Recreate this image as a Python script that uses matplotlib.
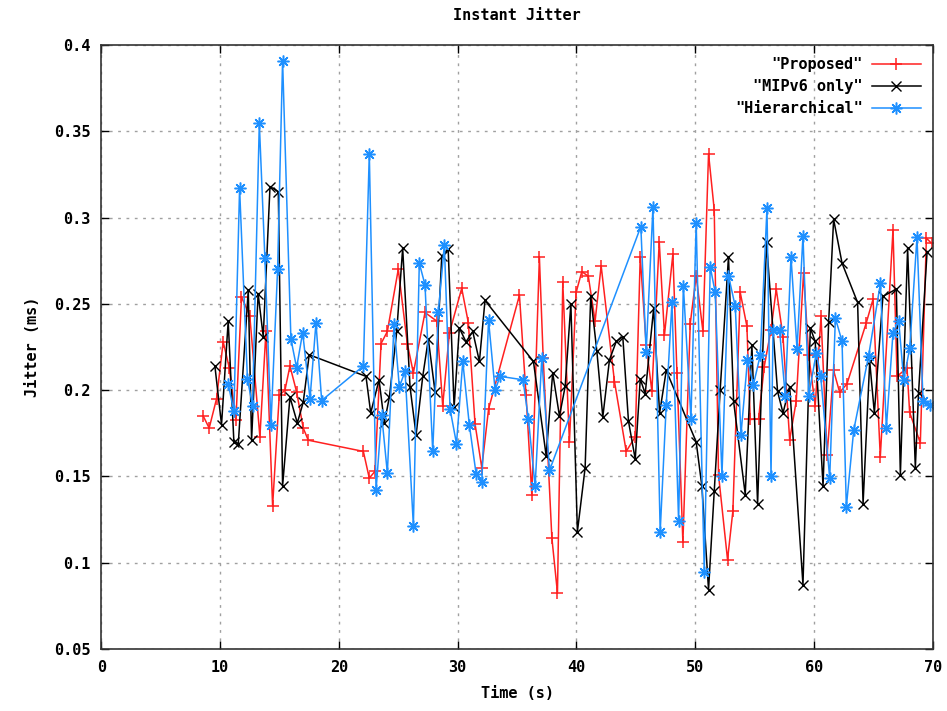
import matplotlib
matplotlib.use("Agg")
import matplotlib.pyplot as plt

# ---------------- data ----------------
prop_x = [8.58, 9.08, 9.7, 10.26, 10.77, 11.33, 11.8, 12.5, 13.35, 13.86, 14.42, 14.98, 15.46, 15.88,
          16.44, 17.0, 17.42, 22.06, 22.56, 23.04, 23.55, 24.08, 25.0, 25.76, 26.27, 27.25, 28.24,
          28.74, 29.3, 30.34, 30.9, 31.46, 32.03, 32.6, 35.2, 35.76, 36.24, 36.88, 37.2, 37.93, 38.4,
          38.85, 39.41, 39.97, 40.45, 41.0, 41.57, 42.08, 43.2, 44.19, 44.95, 45.37, 45.87, 46.35,
          46.97, 47.41, 48.12, 48.46, 48.96, 49.58, 50.08, 50.65, 51.12, 51.6, 51.96, 52.72, 53.17,
          53.79, 54.35, 54.63, 55.33, 55.81, 56.38, 56.82, 57.39, 57.95, 58.5, 59.12, 59.55, 60.1,
          60.59, 61.1, 61.65, 62.16, 62.78, 64.4, 64.97, 65.58, 66.65, 66.99, 67.83, 68.05, 68.95,
          69.46, 69.9]
prop_y = [0.185, 0.178, 0.195, 0.228, 0.213, 0.1825, 0.254, 0.243, 0.173, 0.234, 0.133, 0.197, 0.200,
          0.214, 0.199, 0.178, 0.171, 0.1645, 0.149, 0.153, 0.227, 0.234, 0.270, 0.227, 0.210, 0.245,
          0.240, 0.191, 0.233, 0.259, 0.239, 0.1806, 0.155, 0.189, 0.255, 0.197, 0.1395, 0.277, 0.2186,
          0.1144, 0.0826, 0.2624, 0.170, 0.2566, 0.2687, 0.266, 0.240, 0.272, 0.205, 0.1645, 0.173,
          0.2774, 0.2263, 0.1993, 0.286, 0.232, 0.279, 0.210, 0.112, 0.2385, 0.2663, 0.234, 0.337,
          0.3045, 0.151, 0.1018, 0.130, 0.2566, 0.237, 0.183, 0.1833, 0.2137, 0.235, 0.2586, 0.231,
          0.1713, 0.1935, 0.268, 0.2205, 0.191, 0.2427, 0.1626, 0.2114, 0.1987, 0.2037, 0.239, 0.2527,
          0.1613, 0.2929, 0.208, 0.2128, 0.1871, 0.1694, 0.2881, 0.285]

mip_x = [9.56, 10.12, 10.68, 11.16, 11.53, 12.37, 12.65, 13.2, 13.63, 14.2, 14.9, 15.26, 15.88, 16.5,
         17.0, 17.5, 22.28, 22.68, 23.38, 23.83, 24.25, 24.87, 25.37, 25.99, 26.5, 27.06, 27.53, 28.1,
         28.66, 29.2, 29.7, 30.14, 30.7, 31.27, 31.83, 32.3, 36.38, 37.45, 38.0, 38.57, 39.05, 39.53,
         40.08, 40.73, 41.2, 41.72, 42.22, 42.78, 43.35, 43.9, 44.38, 44.95, 45.37, 45.79, 46.5, 47.0,
         47.56, 50.08, 50.56, 51.12, 51.6, 52.1, 52.8, 53.23, 54.21, 54.77, 55.25, 56.0, 56.93, 57.39,
         57.95, 59.07, 59.69, 60.1, 60.76, 61.23, 61.65, 62.36, 63.67, 64.13, 64.69, 65.08, 65.8,
         66.93, 67.27, 67.88, 68.53, 68.8, 69.52]
mip_y = [0.214, 0.180, 0.240, 0.170, 0.169, 0.258, 0.171, 0.256, 0.231, 0.318, 0.315, 0.1444, 0.196,
         0.181, 0.193, 0.2205, 0.208, 0.1868, 0.206, 0.181, 0.196, 0.234, 0.2823, 0.2018, 0.174, 0.208,
         0.2296, 0.1987, 0.2775, 0.282, 0.1902, 0.236, 0.228, 0.234, 0.2166, 0.252, 0.2166, 0.162,
         0.210, 0.185, 0.2022, 0.250, 0.118, 0.155, 0.2543, 0.2224, 0.1845, 0.2176, 0.2282, 0.231,
         0.182, 0.160, 0.2064, 0.198, 0.2475, 0.1867, 0.2114, 0.170, 0.1443, 0.0844, 0.1414, 0.200,
         0.2774, 0.1935, 0.1395, 0.2263, 0.1342, 0.2856, 0.1993, 0.1868, 0.202, 0.0873, 0.236, 0.2282,
         0.1443, 0.2392, 0.299, 0.2736, 0.2508, 0.1342, 0.2166, 0.1868, 0.2543, 0.2586, 0.151, 0.2823,
         0.155, 0.1984, 0.2803]

hier_x = [10.68, 11.16, 11.64, 12.3, 12.73, 13.3, 13.77, 14.28, 14.84, 15.26, 15.96, 16.44, 16.95,
          17.57, 18.07, 18.55, 22.06, 22.56, 23.13, 23.6, 24.08, 24.64, 25.09, 25.57, 26.27, 26.77,
          27.25, 27.9, 28.37, 28.88, 29.36, 29.9, 30.43, 30.98, 31.55, 32.03, 32.6, 33.15, 33.57, 35.5,
          35.96, 36.52, 37.08, 37.73, 45.42, 45.87, 46.44, 47.05, 47.56, 48.04, 48.6, 49.0, 49.64,
          50.08, 50.76, 51.26, 51.68, 52.25, 52.8, 53.37, 53.85, 54.4, 54.9, 55.48, 56.04, 56.38,
          56.55, 57.1, 57.58, 58.06, 58.57, 59.07, 59.55, 60.19, 60.56, 61.32, 61.8, 62.36, 62.72,
          63.34, 64.6, 65.59, 66.09, 66.65, 67.13, 67.55, 68.06, 68.67, 69.18, 69.8]
hier_y = [0.2037, 0.1877, 0.317, 0.2065, 0.191, 0.3547, 0.2765, 0.180, 0.270, 0.391, 0.2297, 0.213,
          0.2334, 0.195, 0.239, 0.194, 0.214, 0.337, 0.142, 0.1858, 0.152, 0.2385, 0.2018, 0.211,
          0.1215, 0.2736, 0.261, 0.1645, 0.245, 0.2842, 0.189, 0.169, 0.2166, 0.180, 0.1516, 0.1466,
          0.2404, 0.200, 0.208, 0.206, 0.183, 0.1443, 0.2186, 0.1535, 0.2948, 0.222, 0.306, 0.118,
          0.1915, 0.2508, 0.124, 0.2605, 0.1833, 0.297, 0.0945, 0.2716, 0.2566, 0.1505, 0.2663, 0.2485,
          0.1742, 0.2176, 0.2031, 0.2205, 0.3054, 0.1505, 0.235, 0.235, 0.1964, 0.2774, 0.2238, 0.2894,
          0.1968, 0.2215, 0.2084, 0.149, 0.2418, 0.2282, 0.1323, 0.1767, 0.220, 0.262, 0.178, 0.2334,
          0.240, 0.206, 0.2244, 0.2887, 0.1935, 0.1916]

series_labels = ['"Proposed"', '"MIPv6 only"', '"Hierarchical"']
x_ticks = [0, 10, 20, 30, 40, 50, 60, 70]
y_ticks = [0.05, 0.1, 0.15, 0.2, 0.25, 0.3, 0.35, 0.4]
y_ticklabels = ["0.05", "0.1", "0.15", "0.2", "0.25", "0.3", "0.35", "0.4"]

# ---------------- plot ----------------
plt.rcParams['font.family'] = ['DejaVu Sans Mono']
plt.rcParams['font.weight'] = 'bold'

fig = plt.figure(figsize=(9.47, 7.11), dpi=100)
ax = fig.add_axes([0.107, 0.0872, 0.878, 0.8495])

ax.plot(prop_x, prop_y, color='#ff2020', lw=1.1, marker='+', ms=9, mew=1.1, label=series_labels[0])
ax.plot(mip_x, mip_y, color='black', lw=1.1, marker='x', ms=7.5, mew=1.0, label=series_labels[1])
ax.plot(hier_x, hier_y, color='#1e90ff', lw=1.1, marker=(8, 2, 0), ms=8.5, mew=1.1, label=series_labels[2])

ax.set_xlim(0, 70)
ax.set_ylim(0.05, 0.4)
ax.set_xticks(x_ticks)
ax.set_yticks(y_ticks)
ax.set_yticklabels(y_ticklabels)
ax.tick_params(direction='in', top=True, right=True, length=6, width=1, labelsize=11, pad=8)
for lab in ax.get_xticklabels() + ax.get_yticklabels():
    lab.set_fontweight('bold')
ax.grid(True, color='#a0a0a0', linestyle=(0, (2, 4)), linewidth=1)
for s in ax.spines.values():
    s.set_linewidth(1.2)
    s.set_color('#333333')

ax.set_title('Instant Jitter', fontsize=11, fontweight='bold', pad=18)
ax.set_xlabel('Time (s)', fontsize=11, fontweight='bold', labelpad=8)
ax.set_ylabel('Jitter (ms)', fontsize=11, fontweight='bold', labelpad=10)

leg = ax.legend(loc='upper right', frameon=False, markerfirst=False, fontsize=11,
                handlelength=3.2, borderaxespad=0.4, labelspacing=0.45, handletextpad=0.6)
for t in leg.get_texts():
    t.set_fontweight('bold')

fig.savefig('out.png', dpi=100)
